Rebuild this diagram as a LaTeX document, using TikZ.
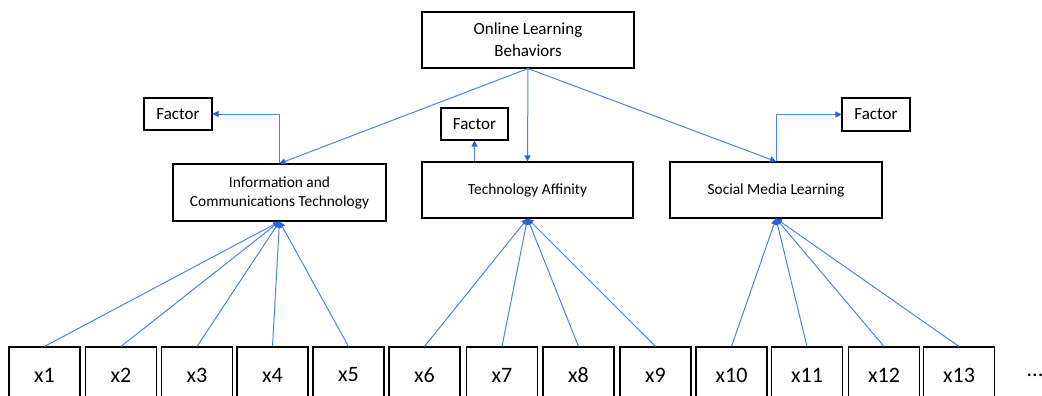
\documentclass[tikz,border=0pt]{standalone}
\usepackage{fontspec}
\setmainfont{Carlito}
\usetikzlibrary{arrows.meta}
\definecolor{lnblue}{RGB}{74,134,232}
\definecolor{tipblue}{RGB}{40,100,215}
\begin{document}
\begin{tikzpicture}[x=1pt,y=-1pt,
  box/.style={draw=black,line width=1.1pt,rectangle,inner sep=0pt,align=center},
  arr/.style={draw=lnblue,line width=1pt,-{Triangle[length=6pt,width=6pt,color=tipblue]}},
  xbox/.style={box,minimum width=71pt,minimum height=56pt,font=\fontsize{22}{26}\selectfont}]
\useasboundingbox (0,0) rectangle (1042,396);
\clip (0,0) rectangle (1042,396);
\fill[white] (0,0) rectangle (1042,396);
\node[box,minimum width=212pt,minimum height=56pt,font=\fontsize{17}{22}\selectfont] (top) at (528,40) {Online Learning\\Behaviors};
\node[box,minimum width=213pt,minimum height=57pt,font=\fontsize{15.4}{19}\selectfont] (ict) at (279.5,192.5) {Information and\\Communications Technology};
\node[box,minimum width=211pt,minimum height=56pt,font=\fontsize{15.4}{19}\selectfont] (ta) at (527.5,190) {Technology Affinity};
\node[box,minimum width=212pt,minimum height=56pt,font=\fontsize{15.4}{19}\selectfont] (sml) at (776,190) {Social Media Learning};
\node[box,minimum width=68pt,minimum height=32pt,font=\fontsize{17}{20}\selectfont] (f1) at (178,114) {Factor};
\node[box,minimum width=67pt,minimum height=32pt,font=\fontsize{17}{20}\selectfont] (f2) at (474.5,124) {Factor};
\node[box,minimum width=68pt,minimum height=33pt,font=\fontsize{17}{20}\selectfont] (f3) at (876,114.5) {Factor};
\foreach \i/\xx in {1/44.5,2/121,3/197,4/272.5,5/348.5,6/424.5,7/502,8/578.5,9/655.5,10/731.5,11/807,12/884,13/959}{
  \node[xbox] (x\i) at (\xx,375) {x\i};
}
\node[font=\fontsize{22}{26}\selectfont] (dots) at (1035,375) {...};
\draw[arr] (top.south) -- (ict.north);
\draw[arr] (top.south) -- (ta.north);
\draw[arr] (top.south) -- (sml.north);
\draw[arr] (ict.north) |- (f1.east);
\draw[arr] (ta.north -| f2.south) -- (f2.south);
\draw[arr] (sml.north) |- (f3.west);
\foreach \i in {1,...,5}{\draw[arr] (x\i.north) -- (ict.south);}
\foreach \i in {6,...,9}{\draw[arr] (x\i.north) -- (ta.south);}
\foreach \i in {10,...,13}{\draw[arr] (x\i.north) -- (sml.south);}
\end{tikzpicture}
\end{document}
